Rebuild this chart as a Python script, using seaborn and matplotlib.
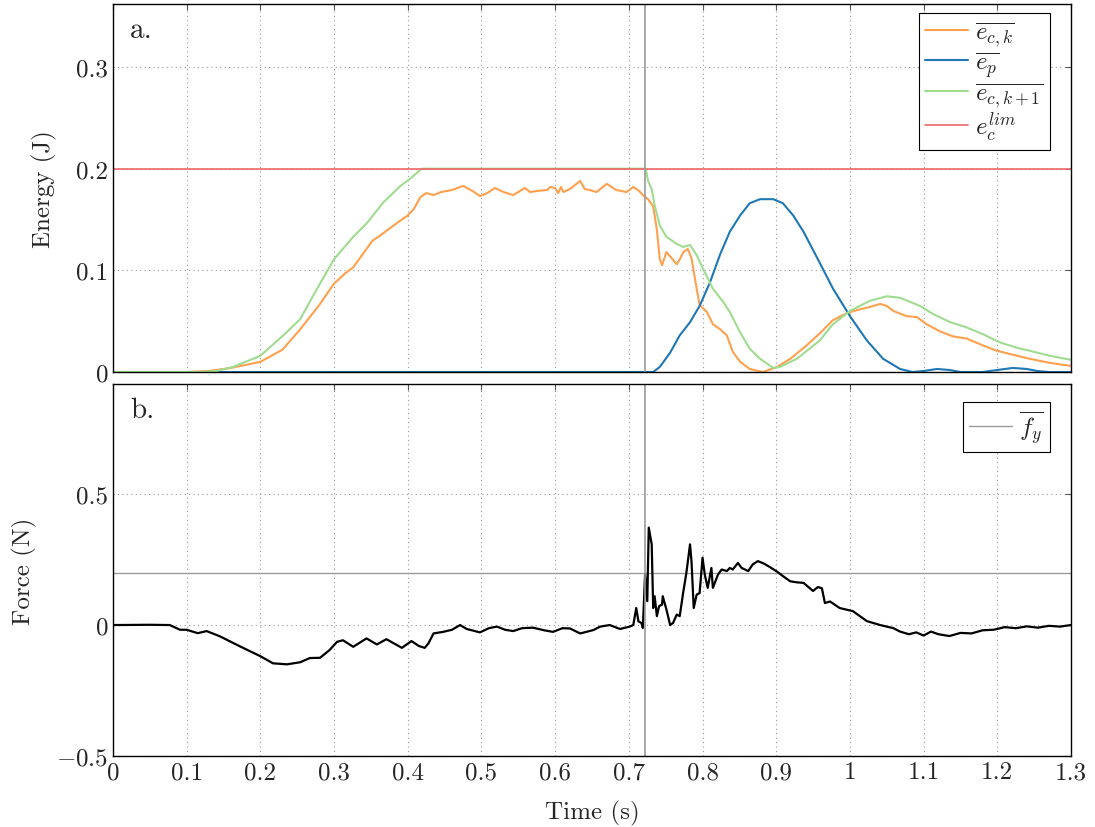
import numpy as np
import matplotlib
matplotlib.use("Agg")
import matplotlib.pyplot as plt
import seaborn as sns

sns.set_style("white")
plt.rcParams['font.family'] = ['cmr10', 'DejaVu Serif']
plt.rcParams['mathtext.fontset'] = 'cm'
plt.rcParams['axes.formatter.use_mathtext'] = True
plt.rcParams['axes.unicode_minus'] = True

# energy curves (time in s, energy in J)
t_eck = [0.0, 0.10, 0.13, 0.16, 0.20, 0.23, 0.254, 0.28, 0.30, 0.315, 0.326, 0.335, 0.344,
         0.352, 0.362, 0.375, 0.39, 0.40, 0.408, 0.417, 0.425, 0.435, 0.445, 0.46, 0.475,
         0.488, 0.498, 0.508, 0.518, 0.53, 0.543, 0.559, 0.566, 0.575, 0.589, 0.593, 0.60,
         0.604, 0.608, 0.611, 0.62, 0.627, 0.634, 0.64, 0.647, 0.656, 0.663, 0.670, 0.683,
         0.697, 0.706, 0.714, 0.719, 0.726, 0.733, 0.738, 0.742, 0.745, 0.751, 0.758, 0.765,
         0.770, 0.774, 0.780, 0.785, 0.792, 0.796, 0.806, 0.814, 0.824, 0.833, 0.841, 0.851,
         0.864, 0.882, 0.901, 0.919, 0.941, 0.959, 0.977, 0.996, 1.010, 1.027, 1.041, 1.05,
         1.059, 1.077, 1.091, 1.104, 1.122, 1.140, 1.158, 1.181, 1.199, 1.221, 1.244, 1.271,
         1.30]
e_ck = [0.0, 0.0, 0.001, 0.004, 0.010, 0.022, 0.042, 0.066, 0.087, 0.097, 0.103, 0.112, 0.121,
        0.129, 0.134, 0.141, 0.149, 0.154, 0.160, 0.172, 0.176, 0.174, 0.177, 0.179, 0.183,
        0.178, 0.173, 0.176, 0.181, 0.177, 0.174, 0.181, 0.177, 0.178, 0.179, 0.182, 0.181,
        0.176, 0.182, 0.177, 0.180, 0.184, 0.188, 0.180, 0.179, 0.177, 0.181, 0.185, 0.179,
        0.177, 0.182, 0.178, 0.174, 0.170, 0.163, 0.140, 0.111, 0.105, 0.118, 0.112, 0.106,
        0.112, 0.118, 0.121, 0.112, 0.082, 0.066, 0.059, 0.047, 0.042, 0.036, 0.020, 0.010,
        0.003, 0.000, 0.005, 0.013, 0.026, 0.038, 0.051, 0.058, 0.061, 0.064, 0.067, 0.065,
        0.060, 0.055, 0.054, 0.047, 0.040, 0.035, 0.033, 0.026, 0.021, 0.017, 0.013, 0.009,
        0.006]

t_ep = [0.0, 0.723, 0.733, 0.742, 0.756, 0.769, 0.783, 0.796, 0.810, 0.824, 0.837, 0.851,
        0.864, 0.878, 0.896, 0.909, 0.923, 0.937, 0.955, 0.977, 1.0, 1.023, 1.045, 1.068,
        1.085, 1.10, 1.118, 1.135, 1.15, 1.18, 1.20, 1.221, 1.24, 1.254, 1.27, 1.30]
e_p = [0.0, 0.0, 0.0, 0.005, 0.019, 0.036, 0.049, 0.065, 0.088, 0.116, 0.138, 0.154,
       0.166, 0.170, 0.170, 0.166, 0.154, 0.138, 0.113, 0.082, 0.055, 0.031, 0.013, 0.003,
       0.0, 0.001, 0.003, 0.002, 0.0, 0.0, 0.002, 0.004, 0.003, 0.001, 0.0, 0.0]

t_eck1 = [0.0, 0.12, 0.14, 0.163, 0.20, 0.231, 0.254, 0.277, 0.30, 0.326, 0.344, 0.367, 0.39,
          0.403, 0.419, 0.723, 0.726, 0.731, 0.735, 0.742, 0.751, 0.765, 0.774, 0.783, 0.792,
          0.801, 0.814, 0.828, 0.837, 0.851, 0.864, 0.878, 0.896, 0.905, 0.928, 0.959, 0.977,
          1.0, 1.027, 1.050, 1.068, 1.095, 1.113, 1.136, 1.158, 1.181, 1.204, 1.226, 1.249,
          1.271, 1.30]
e_ck1 = [0.0, 0.0, 0.001, 0.005, 0.016, 0.036, 0.052, 0.082, 0.111, 0.133, 0.146, 0.167, 0.183,
         0.190, 0.200, 0.200, 0.188, 0.180, 0.164, 0.144, 0.133, 0.126, 0.123, 0.125, 0.115,
         0.101, 0.082, 0.069, 0.059, 0.039, 0.023, 0.013, 0.004, 0.005, 0.013, 0.031, 0.047,
         0.060, 0.070, 0.0745, 0.073, 0.065, 0.057, 0.049, 0.044, 0.037, 0.029, 0.024, 0.020,
         0.016, 0.012]

e_lim = 0.2

# force (N)
t_f = [0.0, 0.05, 0.077, 0.091, 0.100, 0.115, 0.127, 0.145, 0.172, 0.200, 0.217, 0.236, 0.254,
       0.267, 0.281, 0.294, 0.304, 0.312, 0.326, 0.344, 0.358, 0.371, 0.392, 0.405, 0.415,
       0.423, 0.428, 0.435, 0.448, 0.46, 0.471, 0.480, 0.498, 0.510, 0.521, 0.532, 0.543,
       0.555, 0.570, 0.585, 0.597, 0.610, 0.620, 0.634, 0.652, 0.661, 0.674, 0.688, 0.701,
       0.706, 0.710, 0.713, 0.717, 0.719, 0.722, 0.725, 0.727, 0.731, 0.733, 0.735, 0.738,
       0.741, 0.745, 0.746, 0.751, 0.756, 0.760, 0.765, 0.769, 0.774, 0.778, 0.783, 0.785,
       0.788, 0.792, 0.796, 0.800, 0.803, 0.807, 0.812, 0.814, 0.821, 0.826, 0.833, 0.837,
       0.841, 0.848, 0.853, 0.862, 0.868, 0.875, 0.883, 0.891, 0.901, 0.910, 0.919, 0.928,
       0.937, 0.950, 0.955, 0.957, 0.962, 0.966, 0.973, 0.986, 1.004, 1.023, 1.041, 1.059,
       1.068, 1.08, 1.09, 1.10, 1.11, 1.12, 1.135, 1.15, 1.165, 1.18, 1.195, 1.21, 1.225,
       1.24, 1.255, 1.27, 1.285, 1.30]
f_y = [0.0, 0.001, 0.0, -0.018, -0.018, -0.031, -0.023, -0.043, -0.081, -0.119, -0.146, -0.150,
       -0.142, -0.126, -0.125, -0.095, -0.064, -0.058, -0.083, -0.051, -0.074, -0.054, -0.087,
       -0.061, -0.080, -0.087, -0.070, -0.032, -0.026, -0.018, 0.0, -0.015, -0.028, -0.012,
       -0.006, -0.018, -0.023, -0.012, -0.010, -0.020, -0.026, -0.012, -0.013, -0.032, -0.019,
       -0.006, 0.0, -0.015, -0.006, 0.0, 0.065, 0.014, 0.008, -0.011, 0.193, 0.091, 0.372,
       0.308, 0.065, 0.110, 0.034, 0.072, 0.078, 0.110, 0.059, 0.0, 0.008, 0.040, 0.034,
       0.129, 0.198, 0.308, 0.244, 0.065, 0.116, 0.122, 0.257, 0.193, 0.142, 0.218, 0.142,
       0.193, 0.212, 0.206, 0.218, 0.212, 0.237, 0.218, 0.206, 0.231, 0.244, 0.235, 0.222,
       0.204, 0.185, 0.167, 0.163, 0.161, 0.130, 0.142, 0.145, 0.140, 0.084, 0.090, 0.065,
       0.053, 0.015, 0.0, -0.012, -0.025, -0.035, -0.028, -0.040, -0.025, -0.035, -0.042,
       -0.030, -0.032, -0.020, -0.018, -0.008, -0.012, -0.005, -0.010, -0.003, -0.006, 0.0]
f_y_mean = 0.2

t_switch = 0.7225

x_ticks = [0, 0.1, 0.2, 0.3, 0.4, 0.5, 0.6, 0.7, 0.8, 0.9, 1.0, 1.1, 1.2, 1.3]
x_labels = ['0', '0.1', '0.2', '0.3', '0.4', '0.5', '0.6', '0.7', '0.8', '0.9',
            '1', '1.1', '1.2', '1.3']

c_orange = '#ffa04f'
c_blue = '#1f77b4'
c_green = '#a0dc90'
c_red = '#ee6666'
c_gray = '#999999'
fs = 18

fig = plt.figure(figsize=(10.95, 8.28), dpi=100)
ax1 = fig.add_axes([0.1032, 0.5495, 0.8749, 0.4445])
ax2 = fig.add_axes([0.1032, 0.0857, 0.8749, 0.4493])

sns.lineplot(x=t_eck, y=e_ck, ax=ax1, color=c_orange, lw=1.5, estimator=None,
             label=r'$\overline{e_{c,k}}$')
sns.lineplot(x=t_ep, y=e_p, ax=ax1, color=c_blue, lw=1.5, estimator=None,
             label=r'$\overline{e_p}$')
sns.lineplot(x=t_eck1, y=e_ck1, ax=ax1, color=c_green, lw=1.5, estimator=None,
             label=r'$\overline{e_{c,k+1}}$')
ax1.axhline(e_lim, color=c_red, lw=1.2, label=r'$e_c^{lim}$')
ax1.axvline(t_switch, color=c_gray, lw=1.2)

ax2.axhline(f_y_mean, color=c_gray, lw=1.0, label=r'$\overline{f_y}$')
sns.lineplot(x=t_f, y=f_y, ax=ax2, color='black', lw=1.6, estimator=None)
ax2.axvline(t_switch, color=c_gray, lw=1.2)

for ax in (ax1, ax2):
    ax.set_xlim(0, 1.3)
    ax.set_xticks(x_ticks)
    ax.grid(True, linestyle=(0, (1, 3)), color='#999999', lw=0.8)
    ax.tick_params(direction='in', top=True, right=True, length=4, labelsize=fs,
                   color='#555555')
    for s in ax.spines.values():
        s.set_color('black')
        s.set_linewidth(1.0)

ax1.set_ylim(0, 0.362)
ax1.set_yticks([0, 0.1, 0.2, 0.3])
ax1.set_yticklabels(['0', '0.1', '0.2', '0.3'])
ax1.tick_params(labelbottom=False)
ax1.set_xlabel('')
ax1.set_ylabel('Energy (J)', fontsize=fs, labelpad=14)

ax2.set_ylim(-0.5, 0.92)
ax2.set_yticks([-0.5, 0, 0.5])
ax2.set_xticklabels(x_labels)
ax2.set_yticklabels([r'$-0.5$', '0', '0.5'])
ax2.set_xlabel('Time (s)', fontsize=fs, labelpad=12)
ax2.set_ylabel('Force (N)', fontsize=fs, labelpad=14)

ax1.text(0.018, 0.965, 'a.', transform=ax1.transAxes, fontsize=21, va='top')
ax2.text(0.018, 0.965, 'b.', transform=ax2.transAxes, fontsize=21, va='top')

leg1 = ax1.legend(loc='upper right', bbox_to_anchor=(0.978, 0.975), fontsize=fs,
                  fancybox=False, framealpha=1, edgecolor='black', handlelength=1.7,
                  handletextpad=0.3, borderaxespad=0, labelspacing=0.0, borderpad=0.25)
leg1.get_frame().set_linewidth(0.8)
leg2 = ax2.legend(loc='upper right', bbox_to_anchor=(0.978, 0.952), fontsize=fs,
                  fancybox=False, framealpha=1, edgecolor='black', handlelength=1.7,
                  handletextpad=0.3, borderaxespad=0, borderpad=0.25)
leg2.get_frame().set_linewidth(0.8)

fig.savefig('out.png', dpi=100)
